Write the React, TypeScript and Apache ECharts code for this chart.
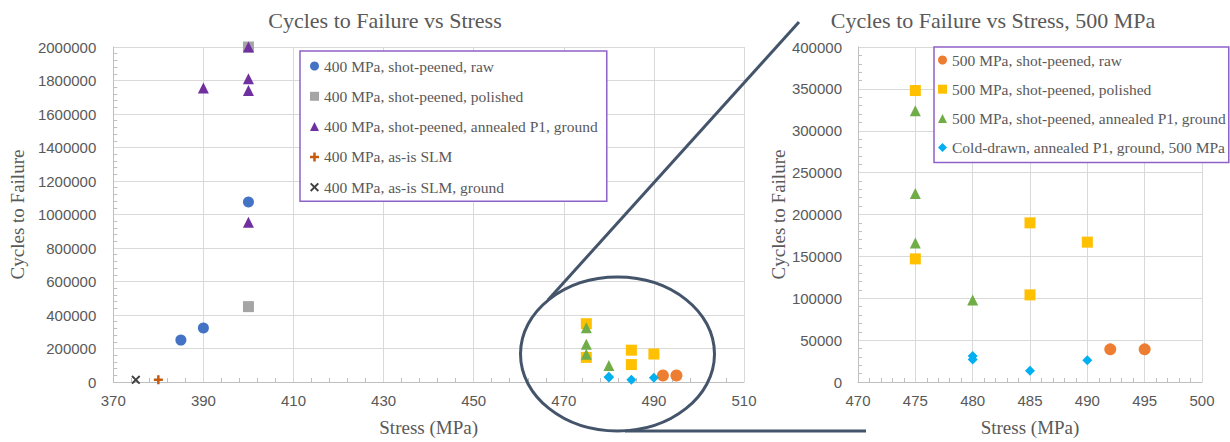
import React, { useEffect, useRef } from "react";
import * as echarts from "echarts";

type Pt = [number, number];

// Stress (MPa) vs cycles to failure, one array per test group
const s400Raw: Pt[] = [[385, 250000], [390, 322000], [400, 1075000]];
const s400Polished: Pt[] = [[400, 2000000], [400, 450000]];
const s400Annealed: Pt[] = [[390, 1755000], [400, 2000000], [400, 1810000], [400, 1740000], [400, 953000]];
const s400AsIs: Pt[] = [[380, 13000]];
const s400AsIsGround: Pt[] = [[375, 13000]];
const s500Raw: Pt[] = [[492, 39000], [495, 39000]];
const s500Polished: Pt[] = [[475, 348000], [475, 147000], [485, 190000], [485, 104000], [490, 167000]];
const s500Annealed: Pt[] = [[475, 324000], [475, 225000], [475, 166000], [480, 98000]];
const coldDrawn: Pt[] = [[480, 31000], [480, 27000], [485, 13500], [490, 26000]];

const names400 = [
  "400 MPa, shot-peened, raw",
  "400 MPa, shot-peened, polished",
  "400 MPa, shot-peened, annealed P1, ground",
  "400 MPa, as-is SLM",
  "400 MPa, as-is SLM, ground",
];
const names500 = [
  "500 MPa, shot-peened, raw",
  "500 MPa, shot-peened, polished",
  "500 MPa, shot-peened, annealed P1, ground",
  "Cold-drawn, annealed P1, ground, 500 MPa",
];

// Left stress axis: 370..510 in steps of 20 (values offset so ticks start at 370)
const leftXStart = 370;
const leftXEnd = 510;
const leftXStep = 20;
const leftYMax = 2000000;
const leftYStep = 200000;
// Right stress axis: 470..500 in steps of 5
const rightXMin = 470;
const rightXMax = 500;
const rightXStep = 5;
const rightYMax = 400000;
const rightYStep = 50000;

const TXT = "#595959";
const SERIF = "'Liberation Serif', 'Times New Roman', serif";
const SANS = "'Liberation Sans', Arial, sans-serif";
const GRIDC = "#D9D9D9";
const AXISC = "#BFBFBF";
const ZOOMC = "#44546A";
const LEGBORDER = "#8E62C8";

const PLUS = "path://M3.6,0H6.4V3.6H10V6.4H6.4V10H3.6V6.4H0V3.6H3.6Z";
const CROSS = "path://M1.5,0L5,3.5L8.5,0L10,1.5L6.5,5L10,8.5L8.5,10L5,6.5L1.5,10L0,8.5L3.5,5L0,1.5Z";

const styles = [
  { symbol: "circle", color: "#4472C4", size: 11 },
  { symbol: "rect", color: "#A5A5A5", size: 11 },
  { symbol: "triangle", color: "#7030A0", size: 11 },
  { symbol: PLUS, color: "#C55A11", size: 9 },
  { symbol: CROSS, color: "#404040", size: 9 },
];
const styles500 = [
  { symbol: "circle", color: "#ED7D31", size: 12 },
  { symbol: "rect", color: "#FFC000", size: 11 },
  { symbol: "triangle", color: "#70AD47", size: 11 },
  { symbol: "diamond", color: "#00B0F0", size: 10 },
];

const data400 = [s400Raw, s400Polished, s400Annealed, s400AsIs, s400AsIsGround];
const data500 = [s500Raw, s500Polished, s500Annealed, coldDrawn];

const tickLabel = (extra: object = {}) => ({
  color: TXT,
  fontFamily: SANS,
  fontSize: 15,
  formatter: (v: number) => String(v),
  ...extra,
});

function axisCommon(min: number, max: number, interval: number) {
  return {
    type: "value" as const,
    min,
    max,
    interval,
    axisLine: { show: true, onZero: false, lineStyle: { color: AXISC, width: 1 } },
    axisTick: { show: false, inside: true },
    minorTick: { show: true, splitNumber: 5, length: 4, lineStyle: { color: AXISC } },
    splitLine: { show: true, lineStyle: { color: GRIDC, width: 1 } },
    nameLocation: "middle" as const,
    nameTextStyle: { color: TXT, fontFamily: SERIF, fontSize: 19 },
  };
}

function scatter(name: string, st: any, pts: Pt[], gi: number, shift: number) {
  return {
    type: "scatter",
    name,
    xAxisIndex: gi,
    yAxisIndex: gi,
    symbol: st.symbol,
    symbolSize: st.size,
    itemStyle: { color: st.color, opacity: 1 },
    emphasis: { disabled: true },
    data: pts.map((p) => [p[0] - shift, p[1]]),
  };
}

function buildOption() {
  const series: any[] = [];
  names400.forEach((n, i) => series.push(scatter(n, styles[i], data400[i], 0, leftXStart)));
  names500.forEach((n, i) => series.push(scatter(n, styles500[i], data500[i], 0, leftXStart)));
  names500.forEach((n, i) => series.push(scatter(n, styles500[i], data500[i], 1, 0)));

  const legendBase = {
    orient: "vertical" as const,
    backgroundColor: "#fff",
    borderColor: LEGBORDER,
    borderWidth: 1.5,
    itemWidth: 9,
    itemHeight: 9,
    selectedMode: false,
    textStyle: { color: TXT, fontFamily: SERIF, fontSize: 15.5 },
  };

  return {
    animation: false,
    backgroundColor: "#fff",
    title: [
      {
        text: "Cycles to Failure vs Stress",
        left: 380,
        textAlign: "center",
        top: 4,
        textStyle: { color: TXT, fontFamily: SERIF, fontSize: 22, fontWeight: "normal" },
      },
      {
        text: "Cycles to Failure vs Stress, 500 MPa",
        left: 988,
        textAlign: "center",
        top: 4,
        textStyle: { color: TXT, fontFamily: SERIF, fontSize: 22, fontWeight: "normal" },
      },
    ],
    grid: [
      { left: 107, right: 486, top: 47, bottom: 60 },
      { left: 858, right: 28, top: 47, bottom: 60 },
    ],
    xAxis: [
      {
        ...axisCommon(0, leftXEnd - leftXStart, leftXStep),
        gridIndex: 0,
        name: "Stress (MPa)",
        nameGap: 36,
        axisLabel: tickLabel({ margin: 11, formatter: (v: number) => String(v + leftXStart) }),
      },
      {
        ...axisCommon(rightXMin, rightXMax, rightXStep),
        gridIndex: 1,
        name: "Stress (MPa)",
        nameGap: 36,
        axisLabel: tickLabel({ margin: 11 }),
      },
    ],
    yAxis: [
      {
        ...axisCommon(0, leftYMax, leftYStep),
        gridIndex: 0,
        name: "Cycles to Failure",
        nameGap: 76,
        axisLabel: tickLabel({ margin: 17 }),
      },
      {
        ...axisCommon(0, rightYMax, rightYStep),
        gridIndex: 1,
        name: "Cycles to Failure",
        nameGap: 70,
        axisLabel: tickLabel({ margin: 16 }),
      },
    ],
    legend: [
      {
        ...legendBase,
        data: names400,
        left: 300,
        top: 51,
        itemGap: 14.3,
        padding: [7, 9, 6, 10],
      },
      {
        ...legendBase,
        data: names500,
        left: 934,
        top: 47,
        itemGap: 13.2,
        padding: [5, 3, 7, 4],
      },
    ],
    // zoom callout: ring around the 500 MPa cluster and leader lines to the detail plot
    graphic: [
      {
        type: "ellipse",
        shape: { cx: 617.5, cy: 354, rx: 97, ry: 77 },
        style: { fill: "none", stroke: ZOOMC, lineWidth: 3 },
        z: 100,
      },
      {
        type: "line",
        shape: { x1: 548, y1: 300, x2: 799, y2: 22 },
        style: { stroke: ZOOMC, lineWidth: 3 },
        z: 100,
      },
      {
        type: "line",
        shape: { x1: 625, y1: 431, x2: 866, y2: 431 },
        style: { stroke: ZOOMC, lineWidth: 3 },
        z: 100,
      },
    ],
    series,
  };
}

export default function App() {
  const ref = useRef<HTMLDivElement>(null);
  useEffect(() => {
    const chart = echarts.init(ref.current!, null, { renderer: "svg" });
    chart.setOption(buildOption() as any);
    return () => chart.dispose();
  }, []);
  return (
    <div
      ref={ref}
      style={{ position: "absolute", left: 0, top: 0, width: 1230, height: 442 }}
    />
  );
}
